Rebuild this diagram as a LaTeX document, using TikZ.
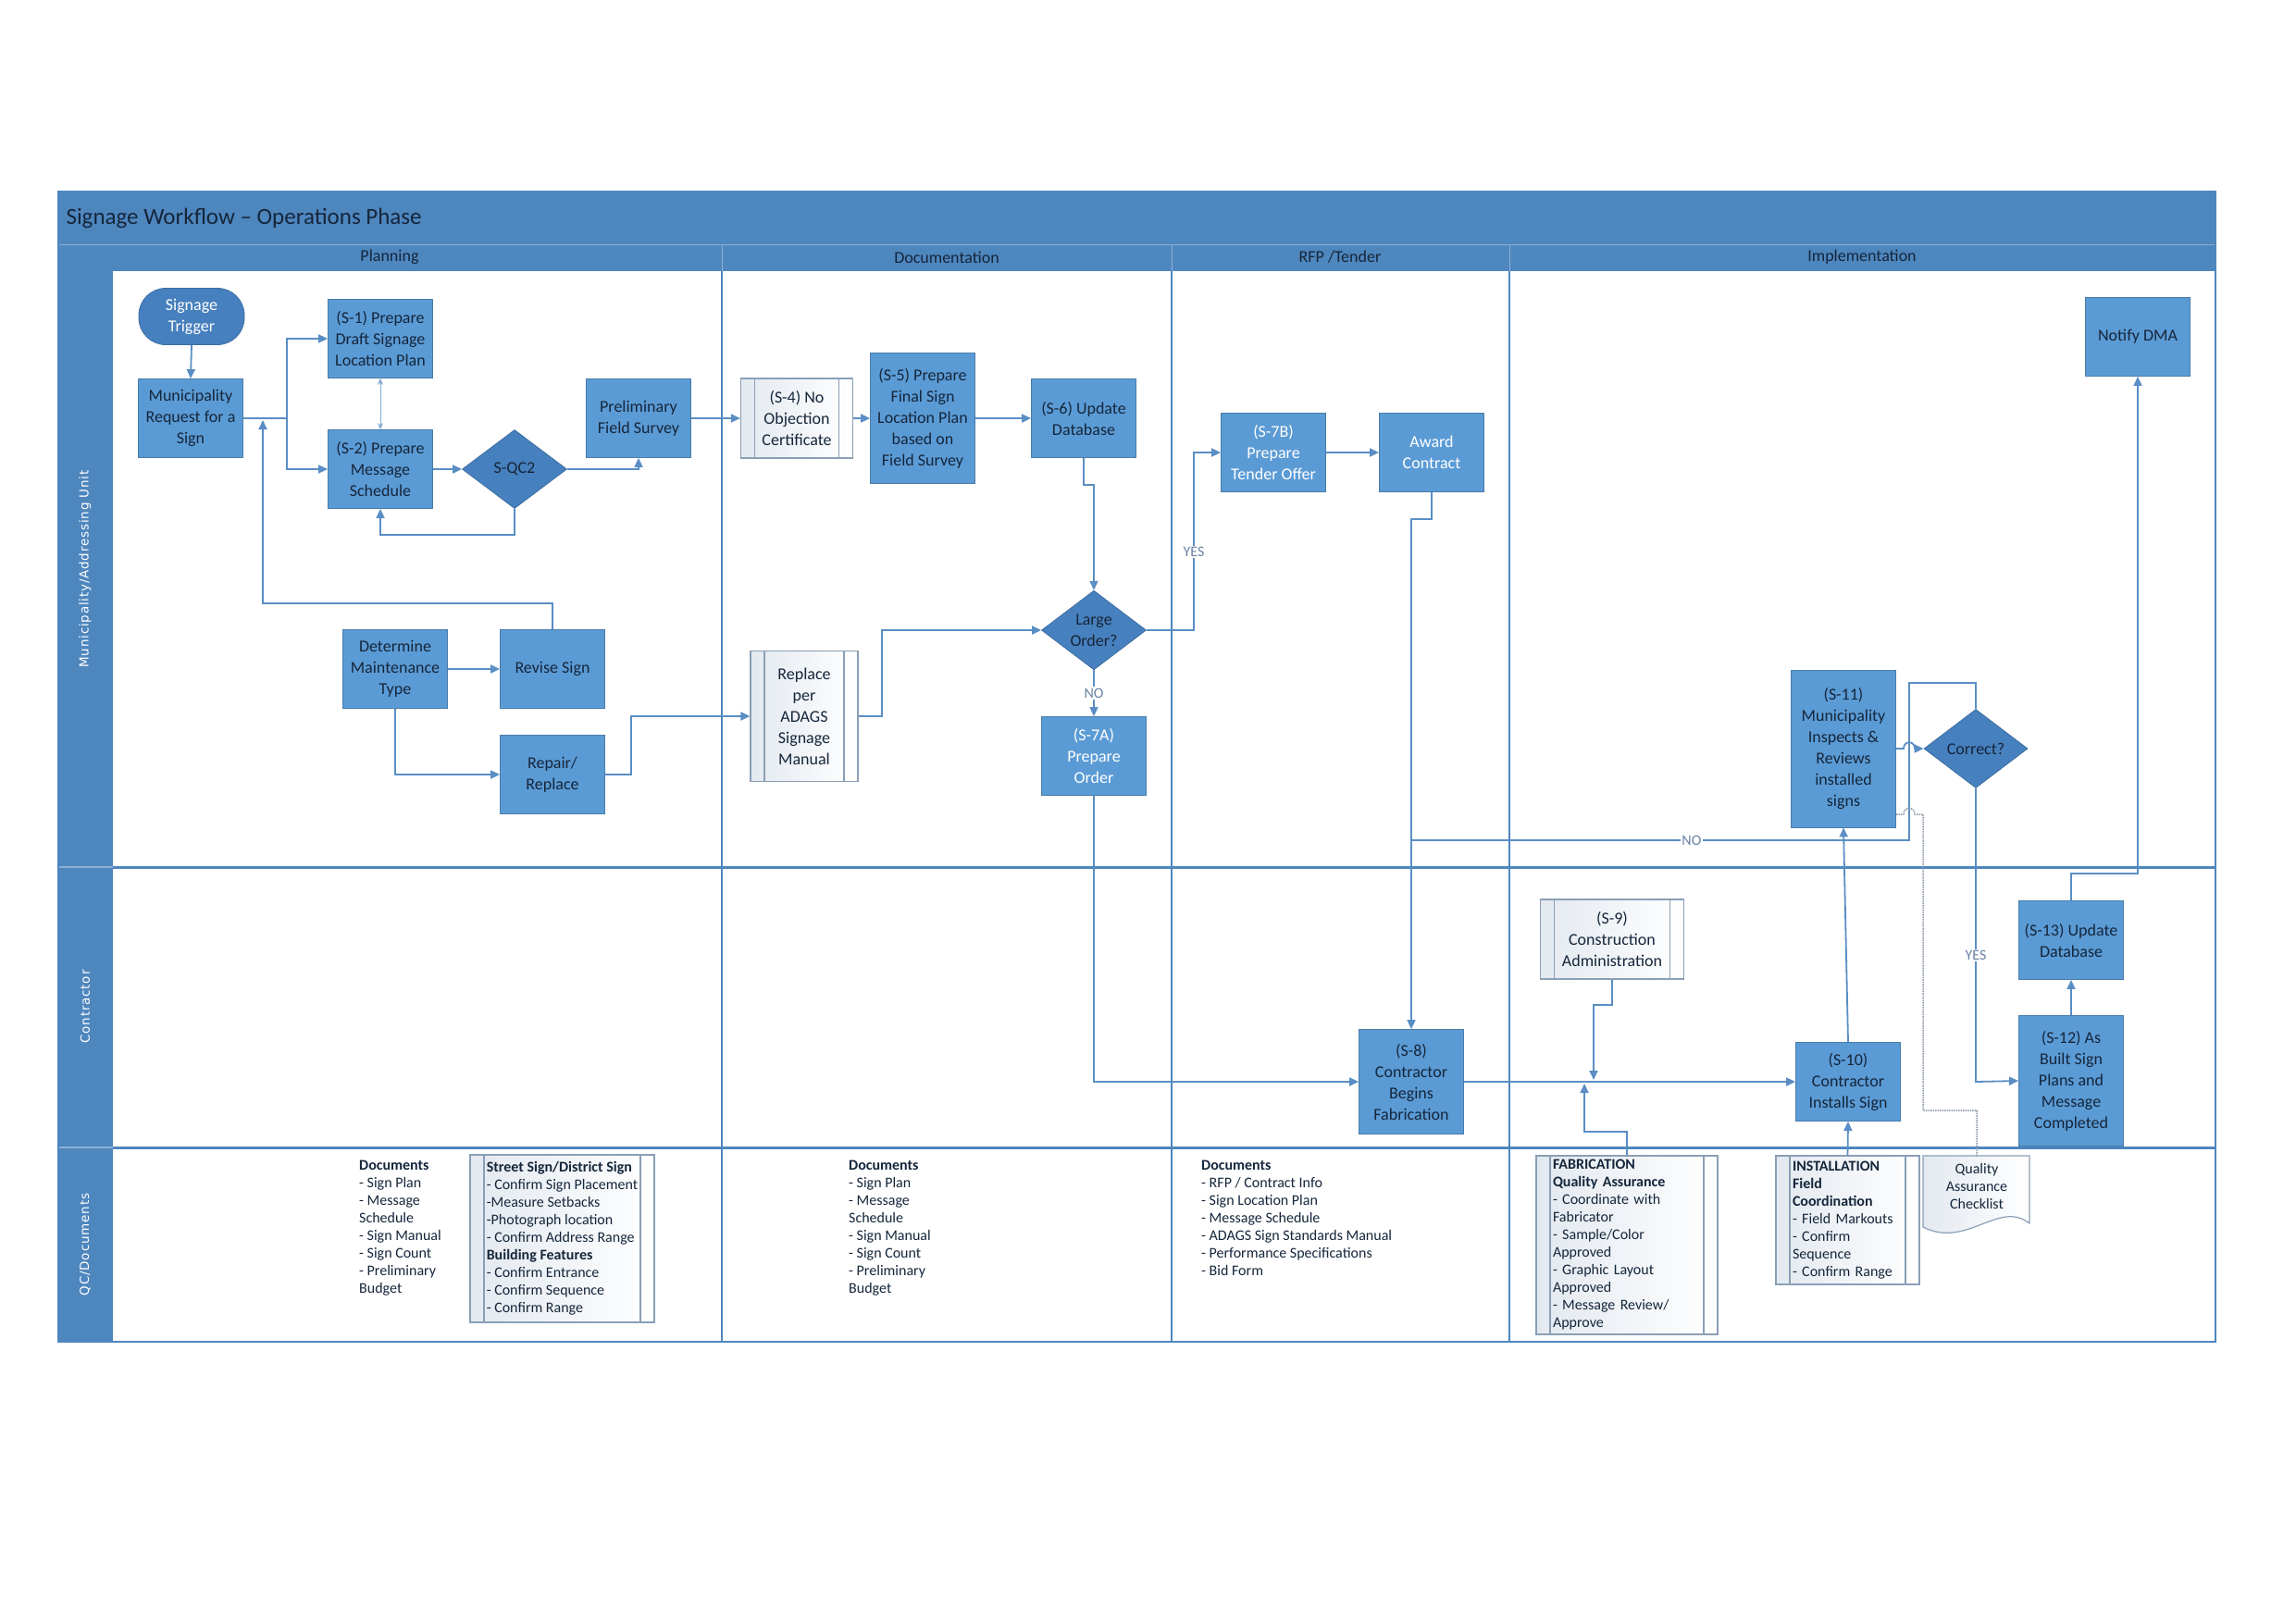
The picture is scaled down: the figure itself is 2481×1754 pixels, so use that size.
\documentclass[tikz,border=0pt]{standalone}
\usepackage{fontspec}
\setmainfont{Carlito}
\newfontfamily\lanefont[LetterSpace=6]{DejaVu Sans}
\usetikzlibrary{shapes.geometric,arrows.meta}
\definecolor{frameblue}{HTML}{4E86BE}
\definecolor{boxblue}{HTML}{5B9BD5}
\definecolor{decblue}{HTML}{4780BE}
\definecolor{conncol}{HTML}{5A8EC4}
\definecolor{boxtext}{HTML}{15263B}
\definecolor{lbltext}{HTML}{6884A5}
\definecolor{subedge}{HTML}{8A9FB6}
\definecolor{subleft}{HTML}{E3E9F0}
\definecolor{dotcol}{HTML}{8C98A6}
\begin{document}
\begin{tikzpicture}[x=1pt,y=-1pt,
  proc/.style={rectangle, fill=boxblue, draw=boxblue!80!black, line width=0.8pt, text=boxtext,
    font=\fontsize{18}{23}\selectfont, align=center, inner sep=1pt, minimum width=113pt, minimum height=85pt},
  wproc/.style={proc, text=white},
  term/.style={proc, fill=decblue, draw=decblue!85!black, text=white, rounded corners=29pt, minimum width=114pt, minimum height=61pt},
  dec/.style={diamond, fill=decblue, draw=decblue!85!black, line width=0.8pt, text=boxtext,
    font=\fontsize{18}{23}\selectfont, align=center, inner sep=0pt, minimum width=113pt, minimum height=85pt},
  sub/.style={rectangle, draw=subedge, line width=1.2pt, left color=subleft, right color=white, text=boxtext,
    font=\fontsize{18}{23}\selectfont, align=center, inner sep=0pt,
    path picture={\draw[subedge, line width=1.2pt]
      ([xshift=15pt]path picture bounding box.south west) -- ([xshift=15pt]path picture bounding box.north west)
      ([xshift=-15pt]path picture bounding box.south east) -- ([xshift=-15pt]path picture bounding box.north east);}},
  subl/.style={sub, align=left, font=\fontsize{16}{19}\selectfont},
  doc/.style={font=\fontsize{16}{19}\selectfont, text=boxtext, align=left, inner sep=0pt},
  conn/.style={draw=conncol, line width=1.8pt},
  arr/.style={conn, -{Triangle[length=10pt,width=9pt]}},
  dotc/.style={draw=dotcol, line width=1.5pt, densely dotted},
  lbl/.style={fill=white, text=lbltext, font=\fontsize{16}{18}\selectfont, inner sep=1.5pt},
  hdr/.style={text=boxtext, font=\fontsize{18}{21}\selectfont},
  lane/.style={rotate=90, text=white, font={\lanefont\fontsize{13.5}{16}\selectfont}}
]
\fill[white] (0,0) rectangle (2481,1754);
\useasboundingbox (0,0) rectangle (2481,1754);

% frame
\fill[frameblue] (63,207) rectangle (2394,293);
\fill[frameblue] (63,293) rectangle (122,1450);
\draw[white!35!frameblue, line width=1pt] (63,264) -- (2394,264);
\foreach \xx in {780,1266,1631} \draw[white!35!frameblue, line width=1pt] (\xx,264) -- (\xx,293);
\draw[white!35!frameblue, line width=1.5pt] (63,937) -- (122,937) (63,1240) -- (122,1240);
\foreach \xx in {780,1266,1631} \draw[frameblue, line width=1.5pt] (\xx,293) -- (\xx,1450);
\draw[frameblue, line width=3pt] (122,937) -- (2394,937) (122,1240) -- (2394,1240);
\draw[frameblue, line width=2pt] (63,207) rectangle (2394,1450);

\node[anchor=west, text=boxtext, font=\fontsize{25}{30}\selectfont] (title) at (68,236) {Signage Workflow – Operations Phase};
\node[hdr] (hplan) at (421,278) {Planning};
\node[hdr] (hdocu) at (1023,278) {Documentation};
\node[hdr] (hrfp) at (1448,278) {RFP /Tender};
\node[hdr] (himpl) at (2012,278) {Implementation};
\node[lane] (lmun) at (92,615) {Municipality/Addressing Unit};
\node[lane] (lcon) at (92,1088) {Contractor};
\node[lane] (lqc) at (92,1345) {QC/Documents};

% nodes
\node[term] (trig) at (207,342) {Signage\\Trigger};
\node[proc] (req) at (206,452) {Municipality\\Request for a\\Sign};
\node[proc] (s1) at (411,366) {(S-1) Prepare\\Draft Signage\\Location Plan};
\node[proc] (s2) at (411,507) {(S-2) Prepare\\Message\\Schedule};
\node[dec] (qc2) at (556,507) {S-QC2};
\node[proc] (survey) at (690,452) {Preliminary\\Field Survey};
\node[proc] (det) at (427,723) {Determine\\Maintenance\\Type};
\node[proc] (revise) at (597,723) {Revise Sign};
\node[proc] (repair) at (597,837) {Repair/\\Replace};
\node[sub, minimum width=121pt, minimum height=86pt] (s4) at (861,452) {(S-4) No\\Objection\\Certificate};
\node[proc, minimum height=141pt] (s5) at (997,452) {(S-5) Prepare\\Final Sign\\Location Plan\\based on\\Field Survey};
\node[proc] (s6) at (1171,452) {(S-6) Update\\Database};
\node[sub, minimum width=116pt, minimum height=141pt] (replace) at (869,774) {Replace\\per\\ADAGS\\Signage\\Manual};
\node[dec] (lo) at (1182,681) {Large\\Order?};
\node[wproc] (s7a) at (1182,817) {(S-7A)\\Prepare\\Order};
\node[wproc] (s7b) at (1376,489) {(S-7B)\\Prepare\\Tender Offer};
\node[wproc] (award) at (1547,489) {Award\\Contract};
\node[proc] (notify) at (2310,364) {Notify DMA};
\node[proc, minimum height=170pt] (s11) at (1992,809) {(S-11)\\Municipality\\Inspects \&\\Reviews\\installed\\signs};
\node[dec, minimum width=112pt] (corr) at (2135,809) {Correct?};
\node[proc] (s13) at (2238,1016) {(S-13) Update\\Database};
\node[proc, minimum height=141pt] (s12) at (2238,1168) {(S-12) As\\Built Sign\\Plans and\\Message\\Completed};
\node[proc] (s10) at (1997,1169) {(S-10)\\Contractor\\Installs Sign};
\node[proc, minimum height=113pt] (s8) at (1525,1169) {(S-8)\\Contractor\\Begins\\Fabrication};
\node[sub, minimum width=155pt, minimum height=86pt] (s9) at (1742,1015) {(S-9)\\Construction\\Administration};

% QC / documents lane
\node[doc, anchor=north west] (pdoc) at (388,1254) {\textbf{Documents}\\- Sign Plan\\- Message\\Schedule\\- Sign Manual\\- Sign Count\\- Preliminary\\Budget};
\node[subl, minimum width=199pt, minimum height=181pt] (street) at (607.5,1338.5) {\textbf{Street Sign/District Sign}\\- Confirm Sign Placement\\-Measure Setbacks\\-Photograph location\\- Confirm Address Range\\\textbf{Building Features}\\- Confirm Entrance\\- Confirm Sequence\\- Confirm Range};
\node[doc, anchor=north west] (ddoc) at (917,1254) {\textbf{Documents}\\- Sign Plan\\- Message\\Schedule\\- Sign Manual\\- Sign Count\\- Preliminary\\Budget};
\node[doc, anchor=north west] (rdoc) at (1298,1254) {\textbf{Documents}\\- RFP / Contract Info\\- Sign Location Plan\\- Message Schedule\\- ADAGS Sign Standards Manual\\- Performance Specifications\\- Bid Form};
\node[subl, minimum width=196pt, minimum height=193pt, text width=160pt, inner xsep=18pt] (fab) at (1758,1345.5) {\textbf{FABRICATION}\\\textbf{Quality Assurance}\\- Coordinate with\\Fabricator\\- Sample/Color\\Approved\\- Graphic Layout\\Approved\\- Message Review/\\Approve};
\node[subl, minimum width=155pt, minimum height=139pt, text width=119pt, inner xsep=18pt] (inst) at (1996.5,1318.5) {\textbf{INSTALLATION}\\\textbf{Field}\\\textbf{Coordination}\\- Field Markouts\\- Confirm\\Sequence\\- Confirm Range};
\draw[subedge, line width=1.2pt, left color=subleft, right color=white]
  (2078,1326) -- (2078,1249) -- (2193,1249) -- (2193,1322)
  .. controls (2160,1296) and (2125,1350) .. (2078,1326) -- cycle;
\node[doc, align=center] (qa) at (2136,1282) {Quality\\Assurance\\Checklist};
\coordinate (qatop) at (2136,1249);

% connectors
\draw[arr] (trig.south) -- (req.north);
\coordinate (jb) at (310,452);
\draw[conn] (req.east) -- (jb);
\draw[arr] (jb) |- (s1.west);
\draw[arr] (jb) |- (s2.west);
\draw[draw=conncol!75, line width=1pt, {Stealth[length=7pt,width=6pt]}-{Stealth[length=7pt,width=6pt]}] (s1.south) -- (s2.north);
\draw[arr] (s2.east) -- (qc2.west);
\draw[arr] (qc2.east) -| (survey.south);
\draw[arr] (qc2.south) -- (556,578) -| (s2.south);
\coordinate (jr) at (284,454);
\draw[arr] (revise.north) -- (597,652) -- (284,652) -- (jr);
\draw[arr] (det.east) -- (revise.west);
\draw[arr] (det.south) |- (repair.west);
\draw[arr] (repair.east) -- (682,837) |- (replace.west);
\draw[arr] (survey.east) -- (s4.west);
\draw[arr] (s4.east) -- (s5.west);
\draw[arr] (s5.east) -- (s6.west);
\draw[arr] (s6.south) -- (1171,524) -| (lo.north);
\draw[arr] (replace.east) -- (953,774) |- (lo.west);
\draw[arr] (lo.south) -- node[lbl] {NO} (s7a.north);
\draw[arr] (lo.east) -- (1290,681) -- node[lbl, pos=0.44] {YES} (1290,489) -- (s7b.west);
\draw[arr] (s7b.east) -- (award.west);
\draw[arr] (award.south) -- (1547,561) -- (1525,561) -- (s8.north);
\draw[arr] (s7a.south) |- (s8.west);
\draw[arr] (s8.east) -- (s10.west);
\coordinate (j9) at (1722,1167);
\draw[arr] (s9.south) -- (1742,1086) -- (1722,1086) -- (j9);
\coordinate (jf) at (1712,1171);
\draw[arr] (fab.north) -- (1758,1223) -- (1712,1223) -- (jf);
\draw[arr] (inst.north) -- (s10.south);
\draw[arr] (s10.north) -- (s11.south);
\draw[arr] (s11.east) -- (2057,809) .. controls (2057,800) and (2069,800) .. (2069,809) -- (corr.west);
\coordinate (jno) at (1525,908);
\draw[conn] (corr.north) -- (2135,738) -- (2063,738) -- (2063,908) -- node[lbl, pos=0.437] {NO} (jno);
\draw[arr] (corr.south) -- node[lbl, pos=0.57] {YES} (2135,1169) -- (s12.west);
\draw[arr] (s12.north) -- (s13.south);
\draw[arr] (s13.north) -- (2238,944) -| (notify.south);
\coordinate (qaend) at (2049,880);
\draw[dotc] (qatop) -- (2136,1200) -- (2078,1200) -- (2078,880) -- (2069,880)
  .. controls (2069,871) and (2057,871) .. (2057,880) -- (qaend);
\end{tikzpicture}
\end{document}
